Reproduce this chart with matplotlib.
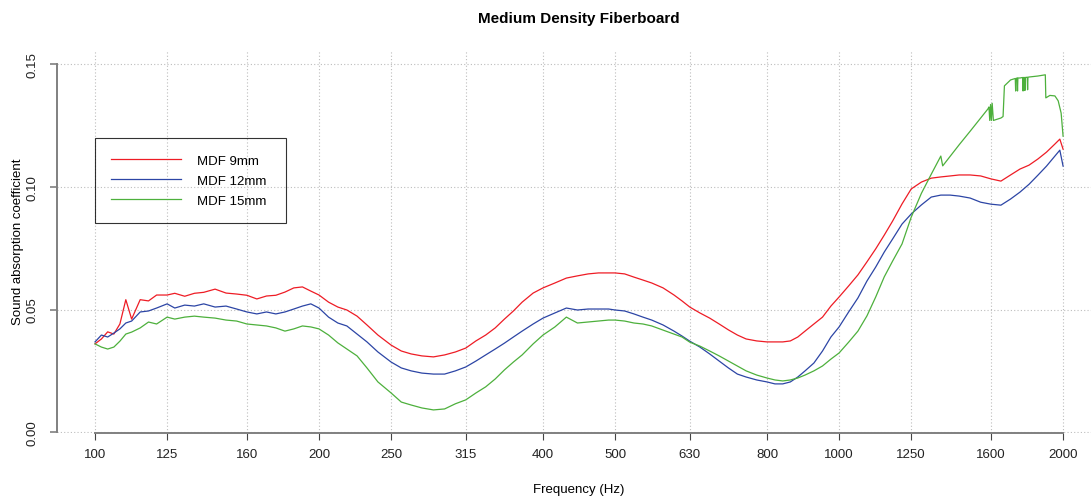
import matplotlib.pyplot as plt
from matplotlib.lines import Line2D

plt.rcParams['font.family'] = ['Liberation Sans', 'DejaVu Sans']

# frequency grid (Hz) shared by MDF 9mm and 12mm
freq = [100, 102, 104, 106, 108, 110, 112, 115, 118, 121, 125, 128, 132, 136, 140,
        145, 150, 155, 160, 165, 170, 175, 180, 185, 190, 195, 200, 206, 212, 218,
        225, 232, 240, 250, 258, 266, 275, 285, 295, 305, 315, 325, 335, 345, 355,
        365, 375, 388, 400, 415, 430, 445, 460, 475, 490, 500, 515, 530, 545, 560,
        580, 600, 615, 630, 650, 670, 690, 710, 730, 750, 775, 800, 820, 840, 860,
        880, 900, 925, 950, 975, 1000, 1030, 1060, 1090, 1120, 1150, 1180, 1215, 1250,
        1290, 1330, 1370, 1410, 1450, 1500, 1550, 1600, 1650, 1700, 1750, 1800, 1850,
        1900, 1950, 1980, 2000]

mdf9 = [0.0360, 0.0380, 0.0409, 0.0400, 0.0441, 0.0540, 0.0461, 0.0540, 0.0535, 0.0559,
        0.0559, 0.0566, 0.0554, 0.0566, 0.0570, 0.0583, 0.0567, 0.0563, 0.0558, 0.0543,
        0.0555, 0.0558, 0.0571, 0.0588, 0.0592, 0.0575, 0.0559, 0.0530, 0.0510, 0.0498,
        0.0473, 0.0437, 0.0396, 0.0355, 0.0331, 0.0319, 0.0311, 0.0307, 0.0315, 0.0327,
        0.0343, 0.0372, 0.0396, 0.0425, 0.0461, 0.0494, 0.0530, 0.0567, 0.0588, 0.0608,
        0.0628, 0.0637, 0.0645, 0.0649, 0.0649, 0.0649, 0.0645, 0.0632, 0.0620, 0.0608,
        0.0588, 0.0559, 0.0535, 0.0510, 0.0486, 0.0465, 0.0441, 0.0417, 0.0396, 0.0380,
        0.0372, 0.0368, 0.0368, 0.0368, 0.0372, 0.0388, 0.0412, 0.0441, 0.0469, 0.0514,
        0.0551, 0.0596, 0.0641, 0.0694, 0.0747, 0.0803, 0.0860, 0.0930, 0.0991, 0.1019,
        0.1035, 0.1040, 0.1044, 0.1048, 0.1048, 0.1044, 0.1032, 0.1023, 0.1048, 0.1072,
        0.1088, 0.1113, 0.1141, 0.1174, 0.1194, 0.1153]

mdf12 = [0.0368, 0.0396, 0.0388, 0.0404, 0.0421, 0.0445, 0.0453, 0.0490, 0.0494, 0.0506,
         0.0523, 0.0506, 0.0518, 0.0514, 0.0523, 0.0510, 0.0514, 0.0502, 0.0490, 0.0482,
         0.0490, 0.0482, 0.0490, 0.0502, 0.0514, 0.0523, 0.0506, 0.0469, 0.0445, 0.0433,
         0.0400, 0.0368, 0.0327, 0.0286, 0.0262, 0.0250, 0.0241, 0.0237, 0.0237, 0.0250,
         0.0266, 0.0290, 0.0315, 0.0339, 0.0363, 0.0388, 0.0412, 0.0441, 0.0465, 0.0486,
         0.0506, 0.0498, 0.0502, 0.0502, 0.0502, 0.0498, 0.0494, 0.0482, 0.0469, 0.0457,
         0.0437, 0.0412, 0.0392, 0.0371, 0.0347, 0.0319, 0.0290, 0.0262, 0.0237, 0.0225,
         0.0213, 0.0205, 0.0197, 0.0197, 0.0205, 0.0225, 0.0250, 0.0282, 0.0331, 0.0388,
         0.0429, 0.0490, 0.0547, 0.0616, 0.0673, 0.0734, 0.0787, 0.0848, 0.0889, 0.0926,
         0.0958, 0.0966, 0.0966, 0.0962, 0.0954, 0.0937, 0.0929, 0.0925, 0.0950, 0.0978,
         0.1010, 0.1047, 0.1084, 0.1125, 0.1149, 0.1084]

# MDF 15mm has its own grid (extra points for the steps and spikes above 1300 Hz)
freq15 = freq[:91] + [1370, 1378, 1410, 1450, 1500, 1550, 1585, 1590, 1594, 1598, 1602,
                      1606, 1612, 1650, 1661, 1668, 1700, 1725, 1727, 1729, 1735, 1737,
                      1739, 1750, 1765, 1767, 1769, 1775, 1777, 1779, 1790, 1792, 1794,
                      1800, 1850, 1893, 1896, 1920, 1950, 1970, 1988, 1995, 2000]

mdf15 = [0.0360, 0.0347, 0.0339, 0.0347, 0.0371, 0.0400, 0.0408, 0.0425, 0.0449, 0.0441,
         0.0469, 0.0461, 0.0469, 0.0473, 0.0469, 0.0465, 0.0457, 0.0453, 0.0441, 0.0437,
         0.0433, 0.0425, 0.0412, 0.0421, 0.0433, 0.0429, 0.0421, 0.0396, 0.0364, 0.0339,
         0.0311, 0.0262, 0.0205, 0.0160, 0.0123, 0.0111, 0.0099, 0.0091, 0.0095, 0.0116,
         0.0132, 0.0160, 0.0185, 0.0217, 0.0254, 0.0286, 0.0315, 0.0360, 0.0396, 0.0429,
         0.0469, 0.0445, 0.0449, 0.0453, 0.0457, 0.0457, 0.0453, 0.0445, 0.0441, 0.0433,
         0.0416, 0.0400, 0.0388, 0.0367, 0.0351, 0.0331, 0.0311, 0.0290, 0.0270, 0.0250,
         0.0233, 0.0221, 0.0213, 0.0209, 0.0213, 0.0221, 0.0233, 0.0250, 0.0270, 0.0298,
         0.0323, 0.0367, 0.0412, 0.0474, 0.0551, 0.0633, 0.0697, 0.0767, 0.0876, 0.0973,
         0.1051,
         0.1125, 0.1085, 0.1124, 0.1171, 0.1226, 0.1280, 0.1317, 0.1325, 0.1270, 0.1335,
         0.1270, 0.1340, 0.1270, 0.1280, 0.1286, 0.1411, 0.1435, 0.1441, 0.1390, 0.1441,
         0.1443, 0.1390, 0.1443, 0.1443, 0.1445, 0.1390, 0.1445, 0.1445, 0.1392, 0.1445,
         0.1446, 0.1395, 0.1446, 0.1447, 0.1451, 0.1456, 0.1362, 0.1372, 0.1370, 0.1350,
         0.1300, 0.1248, 0.1206]

xticks = [100, 125, 160, 200, 250, 315, 400, 500, 630, 800, 1000, 1250, 1600, 2000]
yticks = [0.00, 0.05, 0.10, 0.15]
labels = ['MDF 9mm', 'MDF 12mm', 'MDF 15mm']
colors = ['#ee1c25', '#2c45a5', '#4db03c']

W, H = 1091, 502
fig = plt.figure(figsize=(W / 100, H / 100), dpi=100)
ax = fig.add_axes([57 / W, (H - 434) / H, (1102 - 57) / W, (434 - 51) / H])

ax.plot(freq, mdf9, color=colors[0], lw=0.9)
ax.plot(freq, mdf12, color=colors[1], lw=0.9)
ax.plot(freq15, mdf15, color=colors[2], lw=0.9)

ax.set_xscale('log')
ax.set_xlim(88.9, 2256)
ax.set_ylim(-0.0003, 0.1557)
ax.set_xticks(xticks)
ax.set_xticklabels([str(t) for t in xticks])
ax.minorticks_off()
ax.set_yticks(yticks)
ax.set_yticklabels(['%.2f' % t for t in yticks])

ax.grid(True, color='#bdbdbd', linestyle=(0, (1, 2)), linewidth=0.8)
ax.set_axisbelow(True)

for s in ['top', 'right']:
    ax.spines[s].set_visible(False)
ax.spines['left'].set_bounds(0, 0.15)
ax.spines['bottom'].set_bounds(100, 2000)
for s in ['left', 'bottom']:
    ax.spines[s].set_color('#808080')
    ax.spines[s].set_linewidth(1.4)

ax.tick_params(axis='x', length=5, width=0.8, color='#444444', pad=6,
               labelsize=9.5, labelcolor='#222222')
ax.tick_params(axis='y', length=5, width=1.2, color='#808080', pad=8,
               labelsize=9.5, labelcolor='#222222', labelrotation=90)
for lab in ax.get_yticklabels():
    lab.set_va('center')

fig.text(579 / W, 1 - 19 / H, 'Medium Density Fiberboard', ha='center', va='center',
         fontsize=11, fontweight='bold')
fig.text(579 / W, 1 - 490 / H, 'Frequency (Hz)', ha='center', va='center', fontsize=9.5)
fig.text(18 / W, 1 - 242 / H, 'Sound absorption coefficient', ha='center', va='center',
         rotation=90, fontsize=9.5)

handles = [Line2D([], [], color=c, lw=0.9) for c in colors]
leg = ax.legend(handles, labels, loc='upper left', mode='expand',
                bbox_to_anchor=(95 / W, 1 - 225 / H, 191 / W, 86 / H),
                bbox_transform=fig.transFigure, borderaxespad=0, fontsize=9.5,
                handlelength=5.3, handletextpad=1.2, labelspacing=0.58,
                borderpad=1.25, fancybox=False, frameon=True)
leg.get_frame().set_edgecolor('black')
leg.get_frame().set_facecolor('none')
leg.get_frame().set_linewidth(0.8)

fig.savefig('out.png', dpi=100)
